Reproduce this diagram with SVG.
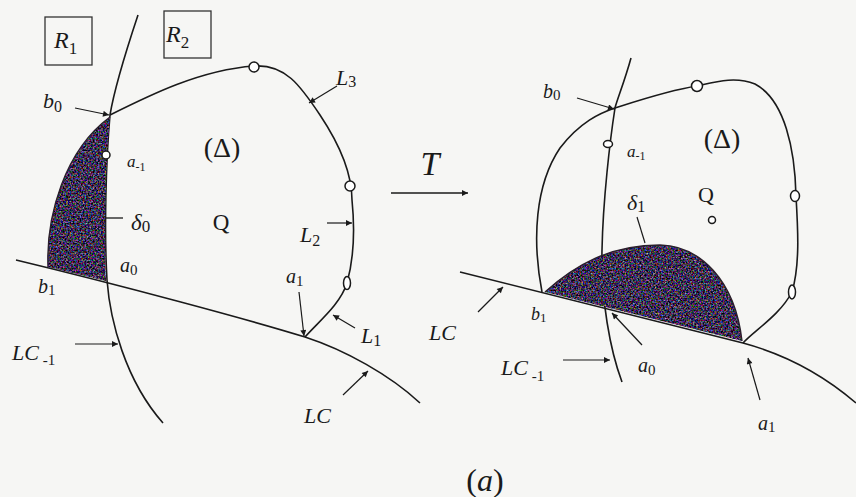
<svg xmlns="http://www.w3.org/2000/svg" width="856" height="497" viewBox="0 0 856 497">
<style>
.ln{fill:none;stroke:#1a1a1a;stroke-width:1.6}
.ar{fill:none;stroke:#1a1a1a;stroke-width:1.2;marker-end:url(#ah)}
.pt{fill:#fff;stroke:#1a1a1a;stroke-width:1.5}
.lb{font-family:"Liberation Serif",serif;font-style:italic;fill:#1a1a1a}
.up{font-family:"Liberation Serif",serif;fill:#1a1a1a}
.sh{fill:#000;filter:url(#speckle)}
.edge{fill:none;stroke:#2a1f2c;stroke-width:1.4}
.box{fill:none;stroke:#333;stroke-width:1.3}
</style>
<defs>
<marker id="ah" viewBox="0 0 10 10" refX="10" refY="5" markerWidth="8" markerHeight="6" markerUnits="userSpaceOnUse" orient="auto">
<path d="M0,0 L10,5 L0,10 Z" fill="#1a1a1a"/>
</marker>
<filter id="speckle" x="0" y="0" width="1" height="1" color-interpolation-filters="sRGB">
<feTurbulence type="fractalNoise" baseFrequency="0.6" numOctaves="2" seed="4" result="n"/>
<feColorMatrix in="n" type="matrix" values="1.6 0.2 0 0 -0.66  0.2 1.4 0.1 0 -0.66  0.1 0.2 1.6 0 -0.62  0 0 0 0 1" result="c"/>
<feComposite in="c" in2="SourceGraphic" operator="in"/>
</filter>
</defs>
<rect x="0" y="0" width="856" height="497" fill="#f6f6f4"/>

<g id="curves">
<path class="ln" d="M138,15 C128,45 115,85 110,115 C106,160 104,230 107,280 C110,320 125,380 163,423"/>
<path class="ln" d="M110,115 C150,95 200,70 254,66 C285,64 300,85 320,115 C340,145 352,175 352,200 C356,240 352,265 347,283 C340,305 318,322 305,337"/>
<path class="ln" d="M16,260 C120,285 250,320 305,337 C345,350 390,375 420,403"/>
<path class="ln" d="M631,58 C625,80 617,100 615,108 C610,140 603,200 602,250 C601,300 610,350 622,382"/>
<path class="ln" d="M542,292 C532,240 535,185 560,148 C580,122 600,113 615,108 C640,100 670,90 697,86 C715,82 735,76 755,84 C785,100 795,150 796,196 C798,230 800,265 792,292 C780,315 755,330 743,343"/>
<path class="ln" d="M460,272 L743,343 C780,353 820,372 856,403"/>
</g>

<g id="left-shaded-delta0">
<path class="sh" d="M110,117 C106,160 104,230 106,281 L48,267 C46,215 65,150 110,117 Z"/>
<path class="edge" d="M48,267 C46,215 65,150 110,117"/>
</g>
<g id="right-shaded-delta1">
<path class="sh" d="M545,292 C575,265 610,245 660,245 C700,246 735,280 742,341 Z"/>
<path class="edge" d="M545,292 C575,265 610,245 660,245 C700,246 735,280 742,341"/>
</g>

<g id="points">
<circle class="pt" cx="106" cy="155" r="4"/>
<circle class="pt" cx="254" cy="67" r="5"/>
<circle class="pt" cx="350" cy="186" r="5"/>
<ellipse class="pt" cx="347" cy="283" rx="3.5" ry="6.5"/>
<ellipse class="pt" cx="608" cy="144" rx="4.5" ry="3.5"/>
<circle class="pt" cx="697" cy="86" r="5.5"/>
<ellipse class="pt" cx="795" cy="196" rx="4.5" ry="5.5"/>
<ellipse class="pt" cx="792" cy="292" rx="3.5" ry="7"/>
<circle class="pt" cx="712" cy="220" r="3.5"/>
</g>

<g id="connectors">
<line class="ar" x1="75" y1="108" x2="109" y2="115"/>
<line class="ln" x1="105" y1="218" x2="123" y2="218" style="stroke-width:1.3"/>
<line class="ar" x1="337" y1="86" x2="309" y2="103"/>
<line class="ar" x1="327" y1="223" x2="352" y2="223"/>
<line class="ar" x1="299" y1="292" x2="304" y2="336"/>
<line class="ar" x1="355" y1="328" x2="333" y2="315"/>
<line class="ar" x1="75" y1="344" x2="118" y2="344"/>
<line class="ar" x1="343" y1="395" x2="368" y2="371"/>
<line class="ar" x1="391" y1="193" x2="468" y2="193" style="stroke-width:1.6"/>
<line class="ar" x1="577" y1="98" x2="614" y2="109"/>
<line class="ln" x1="637" y1="217" x2="645" y2="243" style="stroke-width:1.2"/>
<line class="ar" x1="478" y1="312" x2="503" y2="287"/>
<line class="ar" x1="563" y1="360" x2="610" y2="360"/>
<line class="ar" x1="642" y1="345" x2="612" y2="313"/>
<line class="ar" x1="760" y1="400" x2="748" y2="358"/>
</g>

<g id="R1"><rect class="box" x="45" y="17" width="47" height="48"/><text class="lb" x="54" y="48" font-size="24">R<tspan font-style="normal" font-size="17" dy="6">1</tspan></text></g>
<g id="R2"><rect class="box" x="164" y="11" width="47" height="47"/><text class="lb" x="166" y="42" font-size="24">R<tspan font-style="normal" font-size="17" dy="6">2</tspan></text></g>

<g id="labels-left">
<text class="lb" x="43" y="108" font-size="22">b<tspan font-style="normal" font-size="16" dy="4">0</tspan></text>
<text class="lb" x="127" y="167" font-size="17">a<tspan font-style="normal" font-size="12" dy="4">-1</tspan></text>
<text class="up" x="222" y="157" font-size="28" text-anchor="middle">(Δ)</text>
<text class="lb" x="131" y="230" font-size="23">δ<tspan font-style="normal" font-size="17" dy="2">0</tspan></text>
<text class="up" x="221" y="230" font-size="23" text-anchor="middle">Q</text>
<text class="lb" x="336" y="85" font-size="22">L<tspan font-style="normal" font-size="16" dy="2">3</tspan></text>
<text class="lb" x="300" y="242" font-size="22">L<tspan font-style="normal" font-size="16" dy="4">2</tspan></text>
<text class="lb" x="120" y="272" font-size="20">a<tspan font-style="normal" font-size="15" dy="3">0</tspan></text>
<text class="lb" x="38" y="293" font-size="20">b<tspan font-style="normal" font-size="15" dy="2">1</tspan></text>
<text class="lb" x="286" y="283" font-size="20">a<tspan font-style="normal" font-size="15" dy="3">1</tspan></text>
<text class="lb" x="361" y="343" font-size="22">L<tspan font-style="normal" font-size="16" dy="3">1</tspan></text>
<text class="lb" x="12" y="360" font-size="22">LC<tspan font-style="normal" font-size="15" dy="5"> -1</tspan></text>
<text class="lb" x="304" y="423" font-size="22">LC</text>
</g>

<g id="T-label"><text class="lb" x="430" y="175" font-size="34" text-anchor="middle">T</text></g>

<g id="labels-right">
<text class="lb" x="543" y="98" font-size="20">b<tspan font-style="normal" font-size="15" dy="2">0</tspan></text>
<text class="lb" x="627" y="157" font-size="17">a<tspan font-style="normal" font-size="12" dy="3">-1</tspan></text>
<text class="up" x="722" y="148" font-size="28" text-anchor="middle">(Δ)</text>
<text class="up" x="706" y="202" font-size="22" text-anchor="middle">Q</text>
<text class="lb" x="627" y="210" font-size="22">δ<tspan font-style="normal" font-size="16" dy="2">1</tspan></text>
<text class="lb" x="429" y="340" font-size="22">LC</text>
<text class="lb" x="531" y="320" font-size="18">b<tspan font-style="normal" font-size="13" dy="2">1</tspan></text>
<text class="lb" x="501" y="375" font-size="22">LC<tspan font-style="normal" font-size="15" dy="6"> -1</tspan></text>
<text class="lb" x="638" y="372" font-size="20">a<tspan font-style="normal" font-size="15" dy="3">0</tspan></text>
<text class="lb" x="758" y="430" font-size="20">a<tspan font-style="normal" font-size="15" dy="2">1</tspan></text>
</g>

<g id="caption"><text class="up" x="485" y="491" font-size="32" text-anchor="middle">(<tspan font-style="italic">a</tspan>)</text></g>
</svg>
